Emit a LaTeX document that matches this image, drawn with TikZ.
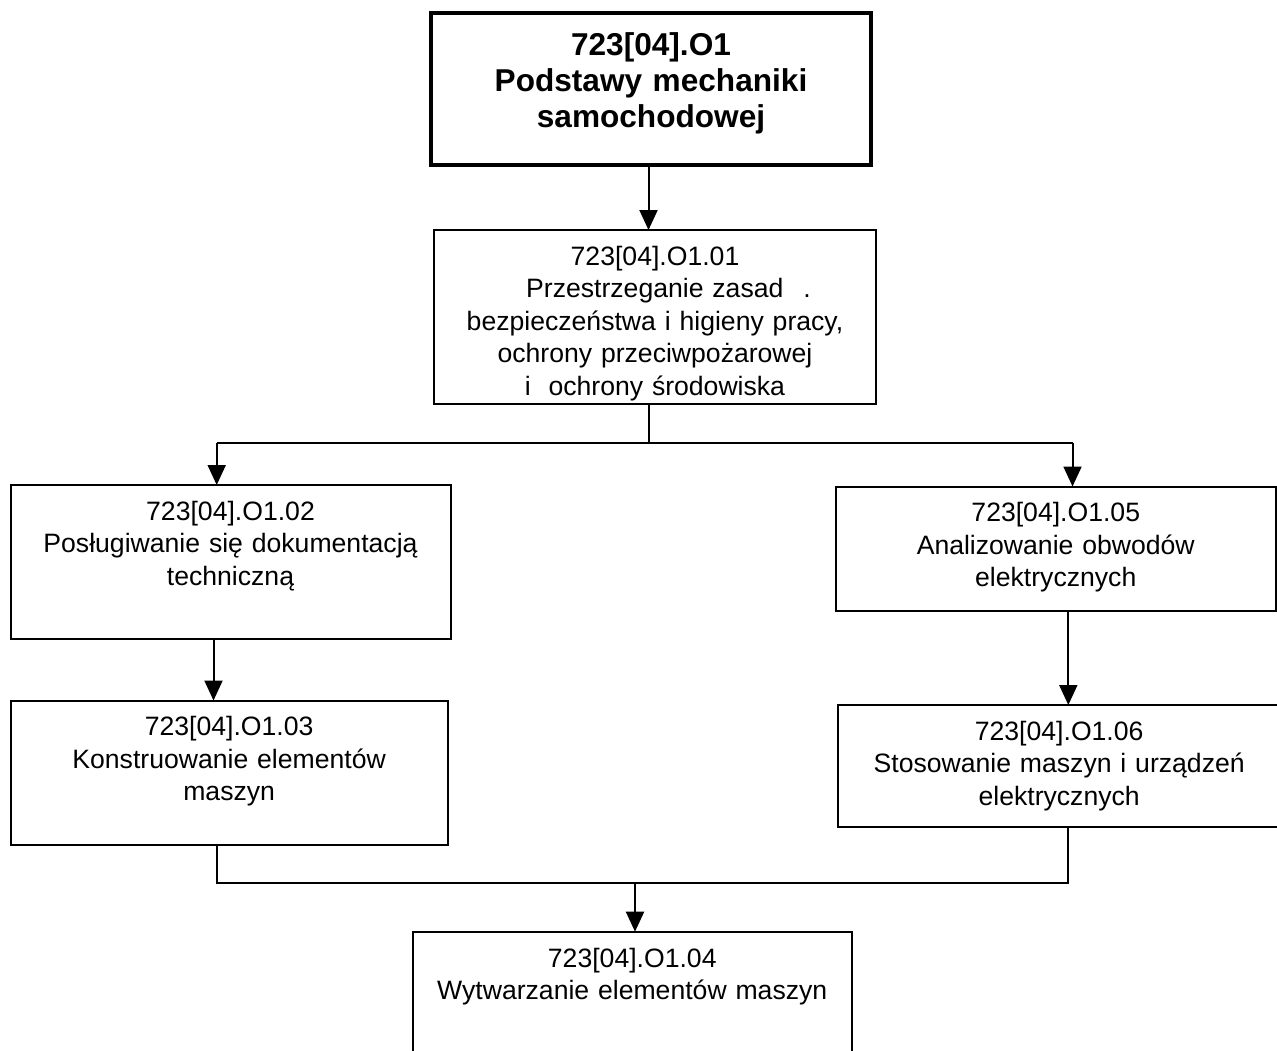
\documentclass[tikz,border=0pt]{standalone}
\usepackage{fontspec}
\setmainfont{Liberation Sans}
\usetikzlibrary{arrows.meta}

\begin{document}
\begin{tikzpicture}[x=0.5pt,y=-0.5pt,
  box/.style={draw,line width=1pt,outer sep=0pt,anchor=north west,align=center,
    inner xsep=2pt,inner ysep=8pt,text height=9.7pt,
    font=\fontsize{13.3pt}{16.2pt}\selectfont},
  headbox/.style={box,line width=2.4pt,inner ysep=9.6pt,text height=11.5pt,
    font=\fontsize{15.8pt}{18pt}\selectfont\bfseries},
  link/.style={line width=1pt},
  arr/.style={link,-{Triangle[length=10pt,width=9pt]}}]
\useasboundingbox (0,0) rectangle (1277,1050);

\node[headbox,text width=216pt,text depth=45.3pt] (o1) at (431,13)
  {723[04].O1\\Podstawy mechaniki\\samochodowej};
\node[box,text width=217pt,text depth=61.3pt] (o101) at (434,230)
  {723[04].O1.01\\\hspace*{13.5pt}Przestrzeganie zasad\hspace{10pt}.\\bezpieczeństwa i higieny pracy,\\ochrony przeciwpożarowej\\i\ \ ochrony środowiska};
\node[box,text width=216pt,text depth=51.15pt] (o102) at (10.5,485)
  {723[04].O1.02\\Posługiwanie się dokumentacją\\techniczną};
\node[box,text width=214.65pt,text depth=46.55pt] (o103) at (10.5,700.5)
  {723[04].O1.03\\Konstruowanie elementów\\maszyn};
\node[box,text width=216.25pt,text depth=36.3pt] (o105) at (835.5,486.5)
  {723[04].O1.05\\Analizowanie obwodów\\elektrycznych};
\node[box,text width=216.85pt,text depth=35.3pt] (o106) at (838.3,705)
  {723[04].O1.06\\Stosowanie maszyn i urządzeń\\elektrycznych};
\node[box,text width=215.45pt,text depth=48.3pt] (o104) at (412.8,931.7)
  {723[04].O1.04\\Wytwarzanie elementów maszyn};

\coordinate (f1c) at (648.5,443);
\coordinate (f1l) at (216.7,443);
\coordinate (f1r) at (1072.5,443);
\coordinate (j1) at (216.7,883.3);
\coordinate (j2) at (1068.3,883.3);
\coordinate (jm) at (635,883.3);

\draw[arr] (f1c |- o1.south) -- (f1c |- o101.north);
\draw[link] (f1c |- o101.south) -- (f1c);
\draw[link] (f1l) -- (f1r);
\draw[arr] (f1l) -- (f1l |- o102.north);
\draw[arr] (f1r) -- (f1r |- o105.north);
\draw[arr] ([xshift=101.5pt]o102.south west) -- ([xshift=101.5pt]o102.south west |- o103.north);
\draw[arr] ([xshift=116.4pt]o105.south west) -- ([xshift=116.4pt]o105.south west |- o106.north);
\draw[link] (j1 |- o103.south) -- (j1) -- (j2) -- (j2 |- o106.south);
\draw[arr] (jm) -- (jm |- o104.north);
\end{tikzpicture}
\end{document}
